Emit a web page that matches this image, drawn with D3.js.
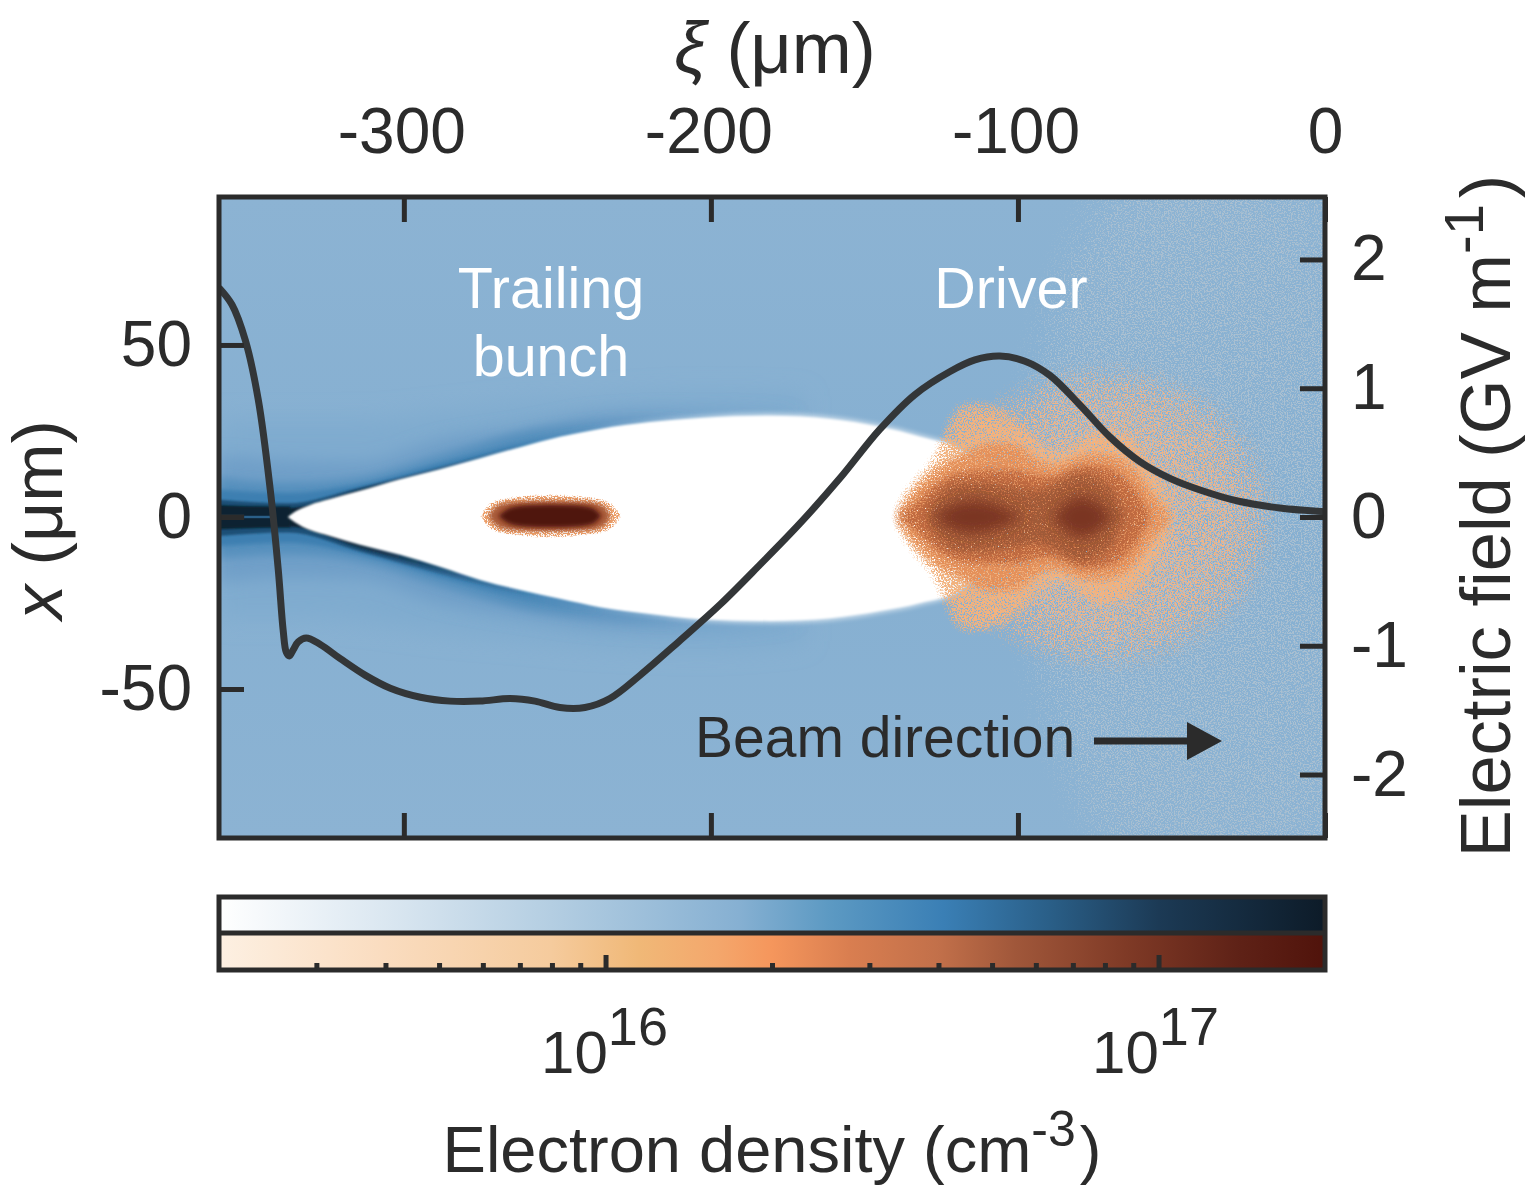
<!DOCTYPE html>
<html>
<head>
<meta charset="utf-8">
<script src="https://cdn.jsdelivr.net/npm/d3@7"></script>
<style>
html, body { margin: 0; padding: 0; background: #fff; }
svg { display: block; }
text { font-family: "Liberation Sans", Arial, sans-serif; fill: #2b2b2b; }
</style>
</head>
<body>
<svg id="chart" width="1533" height="1192"></svg>
<script>
// accelerating field on the axis
var fieldXi = [-360.2,-356,-351.6,-347.4,-343.5,-340.9,-339.3,-338.3,-337.3,-336,-334.4,-331.8,-327.2,-320.7,-312.5,-304.4,-294.6,-284.9,-275.2,-265.4,-257.3,-249.2,-241,-232.9,-223.1,-210.1,-197,-184,-171,-158,-145,-133.6,-122.1,-114,-105.9,-97.7,-89.6,-79.8,-70,-60.3,-50.5,-40.7,-27.7,-14.7,0];
var fieldE = [1.78,1.65,1.37,0.91,0.21,-0.41,-0.88,-1.05,-1.08,-1.03,-0.97,-0.94,-0.99,-1.1,-1.23,-1.33,-1.4,-1.43,-1.43,-1.41,-1.43,-1.48,-1.48,-1.41,-1.23,-0.96,-0.68,-0.37,-0.05,0.3,0.68,0.95,1.13,1.22,1.25,1.21,1.1,0.87,0.62,0.43,0.3,0.21,0.12,0.07,0.04];

// edge of the blown out region
var wakeXi = [-337.8,-335.5,-330.6,-324.1,-314.3,-301.3,-288.3,-275.2,-262.2,-249.2,-236.2,-219.9,-203.6,-180.8,-161.2,-145,-131.9,-118.9,-105];
var wakeUpper = [0,1.5,3.5,5.2,7.6,11,13.9,17.1,20.3,23.3,25.6,27.6,28.8,29.4,28.5,26.2,23.3,19.5,8];
var wakeLower = [0,-1.5,-3.8,-5.5,-8.1,-11,-14.5,-18.3,-21.2,-23.8,-26.2,-28.2,-29.7,-30.2,-29.4,-27.3,-25,-21.2,-8];

// sheath density bands around the wake, outer to inner
var sheathXi = [-360.2,-337.8,-314.3,-288.3,-262.2,-236.2,-203.6,-170];
var sheathColors = ["#7fabcf","#6f9fc8","#5690bd","#3c7fb1","#1f4f76","#0e2231"];
var sheathFadeEnd = [-120,-170,-205,-235,-255,-275];
var sheathBlur = ["blur12","blur8","blur4","blur2","blur1","blur1"];
var sheathUpper = [
  [28,28,28,30,32.5,34,35.5,35],
  [18,16.5,16,22.4,26,30,31,31],
  [11.5,10,11.5,18,24.7,28.2,29.4,29.6],
  [8,7,9.6,15.7,22,26.7,29,29.5],
  [5,4,8.6,14.5,21,26,29,29.5],
  [3.4,2.6,7.9,14,20.5,25.7,29,29.5]
];
var sheathLower = [
  [-29,-29,-30,-33,-35,-37,-38,-36],
  [-19,-17.5,-18,-25,-29,-32,-33,-32],
  [-12,-11,-13,-20,-26.5,-30,-32,-31],
  [-8.5,-7.5,-11,-17.5,-24,-28.5,-31.5,-31],
  [-5.5,-4.5,-10,-16.5,-22.5,-27.5,-31,-31],
  [-3.6,-2.8,-9,-15.5,-22,-27,-31,-31]
];

// driver bunch, half widths per density level
var driverXi = [-139,-134,-127,-117.9,-109.1,-101.6,-94.5,-88.6,-83,-77.5,-70,-62.5,-57,-50.5];
var driverColors = ["#f2b27e","#e4905a","#c06a40"];
var driverHalf = [
  [2,9,16,32.6,32,28.5,22,18,19,23.3,24.7,21.8,14.5,4.4],
  [0,6,12.5,17,20.5,20.5,16,14,15.5,17.5,17,13,6,0],
  [0,2,8,12,12.5,12.5,11,10.5,12.5,14,13,7,0,0]
];
var lobeXi = [-129,-124.4,-118.5,-111.3,-103.1,-93.3,-86.8,-79.3,-71.8,-66];
var lobeBrown = [0,6.5,9,9,8,6.5,9,12,9,0];
var lobeDarkAXi = [-128,-119,-108,-98];
var lobeDarkA = [0,5.5,4.5,0];
var lobeDarkBXi = [-89,-79.3,-69];
var lobeDarkB = [0,9,0];

// trailing bunch
var trailXi = [-274.8,-270.9,-266,-259.5,-252.3,-244.8,-238.3,-233.4,-229.5];
var trailOuter = [0,3.8,4.9,5.5,5.8,5.5,4.9,3.8,0];
var trailMidXi = [-272.5,-269.2,-264.4,-252.3,-239.9,-235,-232.7];
var trailMid = [0,3.2,4.1,4.4,4.1,2.9,0];
var trailDarkXi = [-269.2,-265.4,-259.5,-252.3,-244.8,-238.6,-235.7];
var trailDark = [0,2.3,3.1,3.3,3.1,2.3,0];

// colour bars
var blueStops = [0,0.17,0.3,0.47,0.55,0.655,0.75,0.85,1];
var blueColors = ["#ffffff","#d6e4ef","#b4cee2","#86b0d2","#5d9ac3","#3a7fb5","#2a5f88","#1c3a55","#0d1b28"];
var orangeStops = [0,0.15,0.3,0.38,0.45,0.5,0.57,0.65,0.72,0.82,0.92,1];
var orangeColors = ["#fdf0e2","#fadcbf","#f5cb9d","#f0b877","#f4a76c","#f5965c","#d97e50","#c2704a","#a0573a","#7f3a26","#5f2217","#50130b"];
var densityDomain = [2e15,2e17];
var densityMajor = [1e16,1e17];
var densityMinor = [3e15,4e15,5e15,6e15,7e15,8e15,9e15,2e16,3e16,4e16,5e16,6e16,7e16,8e16,9e16];

var xiTicks = [-300,-200,-100,0];
var xTicks = [-50,0,50];
var fieldTicks = [-2,-1,0,1,2];

var ink = "#2b2b2b";
var svg = d3.select("#chart");
var defs = svg.append("defs");

var xi = d3.scaleLinear().domain([-360.2,0]).range([219,1325]);
var xPos = d3.scaleLinear().domain([-93.3,93]).range([838,197]);
var eField = d3.scaleLinear().domain([-2.493,2.485]).range([838,197]);
var density = d3.scaleLog().domain(densityDomain).range([219,1325]);

defs.append("clipPath").attr("id","plotclip").append("rect")
  .attr("x",219).attr("y",197).attr("width",1106).attr("height",641);

function addBlur(id, sd){
  defs.append("filter").attr("id",id)
    .attr("filterUnits","userSpaceOnUse").attr("x",150).attr("y",120).attr("width",1260).attr("height",800)
    .append("feGaussianBlur").attr("stdDeviation",sd);
}
addBlur("blur1",1);
addBlur("blur2",2);
addBlur("blur4",4);
addBlur("blur7",7);
addBlur("blur8",8);
addBlur("blur12",12);

// speckle: texture only, thresholds blurred alpha against turbulence
// intercept has to stay negative or the whole filter region gets a veil
function addGrain(id, sd, slope, intercept, seed){
  var f = defs.append("filter").attr("id",id)
    .attr("filterUnits","userSpaceOnUse").attr("x",219).attr("y",197).attr("width",1106).attr("height",641)
    .attr("color-interpolation-filters","sRGB");
  f.append("feGaussianBlur").attr("in","SourceGraphic").attr("stdDeviation",sd).attr("result","soft");
  f.append("feTurbulence").attr("type","fractalNoise").attr("baseFrequency",0.7).attr("numOctaves",2).attr("seed",seed).attr("result","noise");
  f.append("feColorMatrix").attr("in","noise").attr("type","matrix")
    .attr("values","0 0 0 0 0  0 0 0 0 0  0 0 0 0 0  3 0 0 0 -1").attr("result","mask");
  f.append("feComposite").attr("in","soft").attr("in2","mask").attr("operator","in").attr("result","speck");
  var t = f.append("feComponentTransfer").attr("in","speck");
  t.append("feFuncA").attr("type","linear").attr("slope",slope).attr("intercept",intercept);
}
addGrain("grainCloud",34,6,-1.3,3);
addGrain("grainPale",9,4,-0.65,7);
addGrain("grainMid",7,3.2,-0.15,11);
addGrain("grainDeep",6,3,-0.02,17);
addGrain("grainBrown",7,2.6,-0.02,19);
addGrain("grainTrail",2,4,-0.6,23);
addGrain("grainPlasma",42,6,-1.2,31);

function fadeGradient(id, color, x1, x2, fromOp, toOp){
  var g = defs.append("linearGradient").attr("id",id)
    .attr("gradientUnits","userSpaceOnUse").attr("x1",x1).attr("x2",x2).attr("y1",0).attr("y2",0);
  g.append("stop").attr("offset",0).attr("stop-color",color).attr("stop-opacity",fromOp);
  g.append("stop").attr("offset",1).attr("stop-color",color).attr("stop-opacity",toOp);
}

function band(parent, xs, up, lo, fill, filter, curve){
  var rows = xs.map(function(d,i){ return {xi:d, up:up[i], lo:lo[i]}; });
  var a = d3.area()
    .x(function(d){ return xi(d.xi); })
    .y0(function(d){ return xPos(d.lo); })
    .y1(function(d){ return xPos(d.up); })
    .curve(curve || d3.curveMonotoneX);
  return parent.append("path").attr("d",a(rows)).attr("fill",fill).attr("filter",filter ? "url(#"+filter+")" : null);
}
function neg(a){ return a.map(function(v){ return -v; }); }

var plot = svg.append("g").attr("clip-path","url(#plotclip)");
var bgGrad = defs.append("linearGradient").attr("id","bgGrad").attr("x1",0).attr("x2",0).attr("y1",0).attr("y2",1);
bgGrad.append("stop").attr("offset",0).attr("stop-color","#8cb3d3");
bgGrad.append("stop").attr("offset",0.5).attr("stop-color","#85afd1");
bgGrad.append("stop").attr("offset",1).attr("stop-color","#8cb3d3");
plot.append("rect").attr("x",219).attr("y",197).attr("width",1106).attr("height",641).attr("fill","url(#bgGrad)");

// sheath
sheathColors.forEach(function(c,i){
  fadeGradient("sheath"+i, c, xi(sheathFadeEnd[i])-170, xi(sheathFadeEnd[i]), 1, 0);
  band(plot, sheathXi, sheathUpper[i], sheathLower[i], "url(#sheath"+i+")", sheathBlur[i]);
});

// dark core along the axis behind the wake
plot.append("rect").attr("x",xi(-370)).attr("width",xi(-337)-xi(-370))
  .attr("y",xPos(3)).attr("height",xPos(-3)-xPos(3)).attr("fill","#0e2231").attr("filter","url(#blur1)");
plot.append("rect").attr("x",xi(-360.2)).attr("width",xi(-352)-xi(-360.2))
  .attr("y",xPos(0.7)).attr("height",xPos(-0.7)-xPos(0.7)).attr("fill","#333638");
plot.append("rect").attr("x",xi(-352)).attr("width",xi(-342)-xi(-352))
  .attr("y",xPos(0.35)).attr("height",xPos(-0.35)-xPos(0.35)).attr("fill","#2a5f88");

// pale halo on the right part of the wake edge
fadeGradient("haloFade","#ffffff",xi(-240),xi(-190),0,0.5);
band(plot, wakeXi.slice(9), wakeUpper.slice(9).map(function(v){ return v+0.8; }), wakeLower.slice(9).map(function(v){ return v-0.8; }), "url(#haloFade)", "blur2");

// wake
fadeGradient("wakeFade","#ffffff",xi(-125),xi(-105),1,0);
band(plot, wakeXi, wakeUpper, wakeLower, "url(#wakeFade)", "blur1");

// plasma noise around the driver, very faint
plot.append("ellipse").attr("cx",xi(-35)).attr("cy",xPos(0)).attr("rx",xi(35)-xi(-35)).attr("ry",xPos(-125)-xPos(0))
  .attr("fill","#a9c0d2").attr("fill-opacity",0.46).attr("filter","url(#grainPlasma)");

// driver
plot.append("ellipse").attr("cx",xi(-72)).attr("cy",xPos(0)).attr("rx",xi(-16)-xi(-72)).attr("ry",xPos(-44)-xPos(0))
  .attr("fill","#eeb488").attr("fill-opacity",0.6).attr("filter","url(#grainCloud)");
band(plot, driverXi, driverHalf[0], neg(driverHalf[0]), driverColors[0], "grainPale");
band(plot, driverXi, driverHalf[1], neg(driverHalf[1]), driverColors[1], "grainMid");
band(plot, driverXi, driverHalf[2], neg(driverHalf[2]), driverColors[2], "grainDeep");
band(plot, lobeXi, lobeBrown, neg(lobeBrown), "#a05a38", "grainBrown");
band(plot, lobeDarkAXi, lobeDarkA, neg(lobeDarkA), "#7a3520", "blur7", d3.curveBasis);
band(plot, lobeDarkBXi, lobeDarkB, neg(lobeDarkB), "#7a3520", "blur7", d3.curveBasis);

// trailing bunch
var trailG = plot.append("g").attr("transform","translate(0,-1)");
band(trailG, trailXi, trailOuter, neg(trailOuter), "#ec9f6a", "grainTrail");
band(trailG, trailMidXi, trailMid, neg(trailMid), "#a85a38", "blur2");
band(trailG, trailDarkXi, trailDark, neg(trailDark), "#50130b", "blur2");

// field line
var fieldRows = fieldXi.map(function(d,i){ return {xi:d, e:fieldE[i]}; });
var fieldLine = d3.line().x(function(d){ return xi(d.xi); }).y(function(d){ return eField(d.e); }).curve(d3.curveCatmullRom.alpha(0.5));
plot.append("path").attr("d",fieldLine(fieldRows)).attr("fill","none").attr("stroke","#333638").attr("stroke-width",7).attr("stroke-linejoin","round");

// inside labels
function label(x, y, str, size, color, anchor){
  return svg.append("text").attr("x",x).attr("y",y).attr("font-size",size)
    .attr("text-anchor",anchor || "middle").style("fill",color || ink).text(str);
}
label(551,308,"Trailing",57.5,"#ffffff");
label(551,376,"bunch",57.5,"#ffffff");
label(1011,308,"Driver",57.5,"#ffffff");
label(695,757,"Beam direction",57,ink,"start");
svg.append("line").attr("x1",1094).attr("x2",1192).attr("y1",741).attr("y2",741).attr("stroke",ink).attr("stroke-width",7);
svg.append("path").attr("d",d3.line()([[1187,722],[1222,741],[1187,760]])+"Z").attr("fill",ink);

// axes
function styleAxis(g){
  g.select(".domain").remove();
  g.selectAll(".tick line").attr("stroke",ink).attr("stroke-width",5);
  g.selectAll(".tick text").attr("font-size",64).style("fill",ink);
}
var plain = function(d){ return String(d); };
var topAxis = svg.append("g").attr("transform","translate(0,197)")
  .call(d3.axisTop(xi).tickValues(xiTicks).tickSize(-25).tickPadding(44).tickFormat(plain)).call(styleAxis);
topAxis.selectAll(".tick text").attr("y",-44).attr("dx",function(d){ return d < 0 ? -2.5 : 0; });
svg.append("g").attr("transform","translate(0,838)")
  .call(d3.axisBottom(xi).tickValues(xiTicks).tickSize(-25).tickFormat("")).call(styleAxis);
svg.append("g").attr("transform","translate(219,0)")
  .call(d3.axisLeft(xPos).tickValues(xTicks).tickSize(-25).tickPadding(27).tickFormat(plain)).call(styleAxis);
svg.append("g").attr("transform","translate(1325,0)")
  .call(d3.axisRight(eField).tickValues(fieldTicks).tickSize(-25).tickPadding(26).tickFormat(plain)).call(styleAxis);

svg.append("rect").attr("x",219).attr("y",197).attr("width",1106).attr("height",641)
  .attr("fill","none").attr("stroke",ink).attr("stroke-width",5);

// axis titles
var topTitle = svg.append("text").attr("x",775).attr("y",73).attr("font-size",72).attr("text-anchor","middle");
topTitle.append("tspan").attr("font-style","italic").text("ξ");
topTitle.append("tspan").text(" (μm)");

var leftTitle = svg.append("text").attr("transform","translate(62,520) rotate(-90)").attr("font-size",70).attr("text-anchor","middle");
leftTitle.append("tspan").attr("font-style","italic").text("x");
leftTitle.append("tspan").text(" (μm)");

var rightTitle = svg.append("text").attr("transform","translate(1510,516) rotate(-90)").attr("font-size",70.5).attr("text-anchor","middle");
rightTitle.append("tspan").text("Electric field (GV m");
rightTitle.append("tspan").attr("dy",-27).attr("font-size",56).text("-1");
rightTitle.append("tspan").attr("dy",27).attr("dx",6).text(")");

// colour bars
function barGradient(id, stops, colors){
  var g = defs.append("linearGradient").attr("id",id).attr("x1",0).attr("x2",1).attr("y1",0).attr("y2",0);
  stops.forEach(function(s,i){ g.append("stop").attr("offset",s).attr("stop-color",colors[i]); });
}
barGradient("barBlue",blueStops,blueColors);
barGradient("barOrange",orangeStops,orangeColors);
svg.append("rect").attr("x",219).attr("y",897).attr("width",1106).attr("height",36).attr("fill","url(#barBlue)");
svg.append("rect").attr("x",219).attr("y",933).attr("width",1106).attr("height",37).attr("fill","url(#barOrange)");

svg.append("g").attr("transform","translate(0,970)")
  .call(d3.axisBottom(density).tickValues(densityMinor).tickSize(-7).tickFormat("")).call(styleAxis);
svg.append("g").attr("transform","translate(0,970)")
  .call(d3.axisBottom(density).tickValues(densityMajor).tickSize(-15).tickFormat("")).call(styleAxis);

svg.append("rect").attr("x",219).attr("y",897).attr("width",1106).attr("height",73)
  .attr("fill","none").attr("stroke",ink).attr("stroke-width",5);
svg.append("line").attr("x1",219).attr("x2",1325).attr("y1",933).attr("y2",933).attr("stroke",ink).attr("stroke-width",5);

densityMajor.forEach(function(d){
  var t = svg.append("text").attr("x",density(d)-(d == 1e16 ? 1 : 3)).attr("y",1073).attr("font-size",60).attr("text-anchor","middle");
  t.append("tspan").text("10");
  t.append("tspan").attr("dy",-28).attr("font-size",54).text(Math.round(Math.log10(d)));
});

var barTitle = svg.append("text").attr("x",772).attr("y",1172).attr("font-size",65).attr("text-anchor","middle");
barTitle.append("tspan").text("Electron density (cm");
barTitle.append("tspan").attr("dy",-26).attr("font-size",50).text("-3");
barTitle.append("tspan").attr("dy",26).attr("dx",4).text(")");
</script>
</body>
</html>
